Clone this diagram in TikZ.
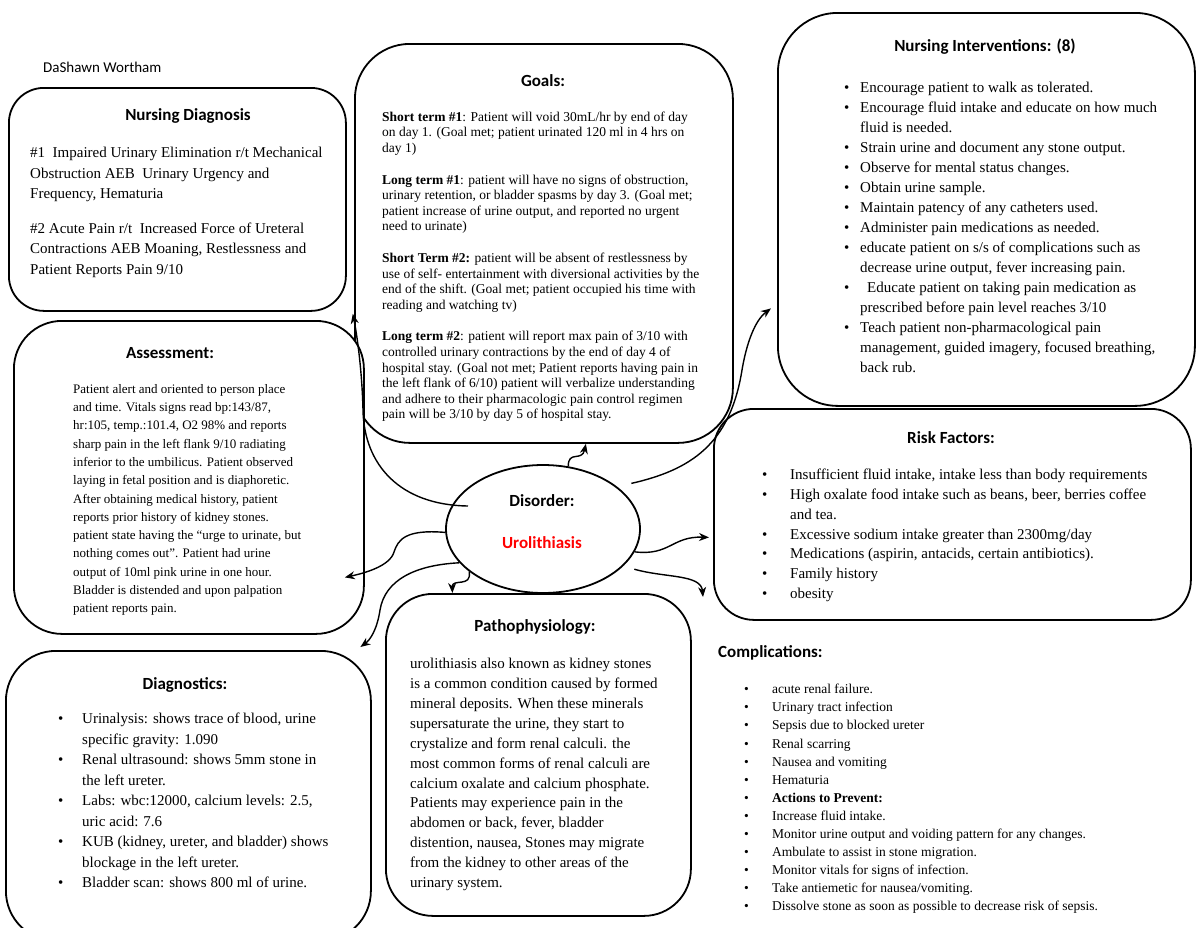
\documentclass[tikz,border=0pt]{standalone}
\usepackage{fontspec}
\setmainfont{Liberation Serif}
\newfontfamily\calfont{Carlito}
\usetikzlibrary{arrows.meta,shapes.geometric}
\newlength\bind
\newcommand\bu{\makebox[\bind][l]{\textbullet}}
\newcommand\bc{\hspace*{\bind}}
\begin{document}
\begin{tikzpicture}[x=1pt,y=-1pt,
  box/.style={draw, line width=1.8pt, fill=white, rectangle, rounded corners=#1, anchor=north west, inner sep=0pt},
  conn/.style={line width=1.4pt, -{Stealth[length=10pt,width=8pt]}},
  head/.style={font=\calfont\bfseries\fontsize{17}{20}\selectfont, inner sep=0pt},
  body/.style 2 args={font=\fontsize{#1}{#2}\selectfont, align=left, anchor=north west, inner sep=0pt},
  blist/.style n args={3}{font=\fontsize{#1}{#2}\selectfont\setlength\bind{#3}, align=left, anchor=north west, inner sep=0pt},
]
\useasboundingbox (0,0) rectangle (1200,927);
\clip (0,0) rectangle (1200,927);

% boxes
\node[box=55pt, minimum width=378pt, minimum height=399pt] (goals) at (354,43) {};
\node[box=35pt, minimum width=337pt, minimum height=223pt] (nd) at (8,87) {};
\node[box=60pt, minimum width=417pt, minimum height=393pt] (ni) at (777,12) {};
\node[box=40pt, minimum width=477pt, minimum height=211pt] (rf) at (713,408) {};
\node[box=48pt, minimum width=350pt, minimum height=313pt] (as) at (13,320) {};
\node[box=50pt, minimum width=365pt, minimum height=290pt] (dg) at (5,650) {};
\node[box=47pt, minimum width=305pt, minimum height=322pt] (pp) at (385,593) {};
\node[draw, ellipse, line width=1.8pt, fill=white, minimum width=194pt, minimum height=128pt, inner sep=0pt] (dis) at (543,529) {};

% author
\node[font=\calfont\fontsize{15}{18}\selectfont, anchor=west, inner sep=0pt] (author) at (43,67) {DaShawn Wortham};

% headings
\node[head] (ndh) at (188,116) {Nursing Diagnosis};
\node[head] (goalsh) at (543,81) {Goals:};
\node[head] (nih) at (985,47) {Nursing Interventions: (8)};
\node[head] (ash) at (170,353) {Assessment:};
\node[head] (rfh) at (951,438) {Risk Factors:};
\node[head] (dgh) at (185,685) {Diagnostics:};
\node[head] (pph) at (535,627) {Pathophysiology:};
\node[head, anchor=west] (coh) at (718,653) {Complications:};
\node[head] (dish) at (542,501) {Disorder:};
\node[head, text=red] (disn) at (542,543) {Urolithiasis};

% nursing diagnosis text
\node[body={15}{20.5}] (ndt) at (30,147) {\#1\ \ Impaired Urinary Elimination r/t Mechanical\\
Obstruction AEB\ \ Urinary Urgency and\\
Frequency, Hematuria\\[14pt]
\#2 Acute Pain r/t\ \ Increased Force of Ureteral\\
Contractions AEB Moaning, Restlessness and\\
Patient Reports Pain 9/10};

% goals text
\node[body={13.5}{15.6}] (goalst) at (382,111.5) {\textbf{Short term \#1}: Patient will void 30mL/hr by end of day\\
on day 1. (Goal met; patient urinated 120 ml in 4 hrs on\\
day 1)\\[16pt]
\textbf{Long term \#1}: patient will have no signs of obstruction,\\
urinary retention, or bladder spasms by day 3. (Goal met;\\
patient increase of urine output, and reported no urgent\\
need to urinate)\\[16pt]
\textbf{Short Term \#2:} patient will be absent of restlessness by\\
use of self- entertainment with diversional activities by the\\
end of the shift. (Goal met; patient occupied his time with\\
reading and watching tv)\\[16pt]
\textbf{Long term \#2}: patient will report max pain of 3/10 with\\
controlled urinary contractions by the end of day 4 of\\
hospital stay. (Goal not met; Patient reports having pain in\\
the left flank of 6/10) patient will verbalize understanding\\
and adhere to their pharmacologic pain control regimen\\
pain will be 3/10 by day 5 of hospital stay.};

% nursing interventions
\node[blist={15}{20}{16pt}] (nit) at (844,82) {\bu Encourage patient to walk as tolerated.\\
\bu Encourage fluid intake and educate on how much\\
\bc fluid is needed.\\
\bu Strain urine and document any stone output.\\
\bu Observe for mental status changes.\\
\bu Obtain urine sample.\\
\bu Maintain patency of any catheters used.\\
\bu Administer pain medications as needed.\\
\bu educate patient on s/s of complications such as\\
\bc decrease urine output, fever increasing pain.\\
\bu\hspace*{7pt}Educate patient on taking pain medication as\\
\bc prescribed before pain level reaches 3/10\\
\bu Teach patient non-pharmacological pain\\
\bc management, guided imagery, focused breathing,\\
\bc back rub.};

% assessment
\node[body={13}{18.3}] (ast) at (73,384) {Patient alert and oriented to person place\\
and time. Vitals signs read bp:143/87,\\
hr:105, temp.:101.4, O2 98\% and reports\\
sharp pain in the left flank 9/10 radiating\\
inferior to the umbilicus. Patient observed\\
laying in fetal position and is diaphoretic.\\
After obtaining medical history, patient\\
reports prior history of kidney stones.\\
patient state having the “urge to urinate, but\\
nothing comes out”. Patient had urine\\
output of 10ml pink urine in one hour.\\
Bladder is distended and upon palpation\\
patient reports pain.};

% risk factors
\node[blist={15}{19.8}{28pt}] (rft) at (762,469) {\bu Insufficient fluid intake, intake less than body requirements\\
\bu High oxalate food intake such as beans, beer, berries coffee\\
\bc and tea.\\
\bu Excessive sodium intake greater than 2300mg/day\\
\bu Medications (aspirin, antacids, certain antibiotics).\\
\bu Family history\\
\bu obesity};

% diagnostics
\node[blist={15}{20.5}{24pt}] (dgt) at (58,713) {\bu Urinalysis: shows trace of blood, urine\\
\bc specific gravity: 1.090\\
\bu Renal ultrasound: shows 5mm stone in\\
\bc the left ureter.\\
\bu Labs: wbc:12000, calcium levels: 2.5,\\
\bc uric acid: 7.6\\
\bu KUB (kidney, ureter, and bladder) shows\\
\bc blockage in the left ureter.\\
\bu Bladder scan: shows 800 ml of urine.};

% pathophysiology
\node[body={15}{19.9}] (ppt) at (410,658) {urolithiasis also known as kidney stones\\
is a common condition caused by formed\\
mineral deposits. When these minerals\\
supersaturate the urine, they start to\\
crystalize and form renal calculi. the\\
most common forms of renal calculi are\\
calcium oxalate and calcium phosphate.\\
Patients may experience pain in the\\
abdomen or back, fever, bladder\\
distention, nausea, Stones may migrate\\
from the kidney to other areas of the\\
urinary system.};

% complications
\node[blist={13.5}{18.1}{28pt}] (cot) at (744,684) {\bu acute renal failure.\\
\bu Urinary tract infection\\
\bu Sepsis due to blocked ureter\\
\bu Renal scarring\\
\bu Nausea and vomiting\\
\bu Hematuria\\
\bu \textbf{Actions to Prevent:}\\
\bu Increase fluid intake.\\
\bu Monitor urine output and voiding pattern for any changes.\\
\bu Ambulate to assist in stone migration.\\
\bu Monitor vitals for signs of infection.\\
\bu Take antiemetic for nausea/vomiting.\\
\bu Dissolve stone as soon as possible to decrease risk of sepsis.};

\coordinate (compl) at (703,597);

% connectors
\draw[conn] (dis.68) .. controls (568,450) and (582,462) .. ([xshift=42pt]goals.south);
\draw[conn] ([shift={(12pt,5pt)}]dis.28) .. controls (690,470) and (730,445) .. (742,370) .. controls (748,335) and (758,318) .. ([xshift=-6pt,yshift=-99pt]ni.west);
\draw[conn] (dis.-14) .. controls (670,556) and (672,536) .. ([xshift=-4pt,yshift=-23pt]rf.west);
\draw[conn] ([shift={(10pt,-4pt)}]dis.-24) .. controls (665,578) and (701,574) .. (compl);
\draw[conn] (dis.210) .. controls (472,588) and (452,578) .. ([xshift=-86pt]pp.north);
\draw[conn] (dis.182) .. controls (405,529) and (398,540) .. (394,552) .. controls (390,566) and (365,573) .. ([xshift=-20pt,yshift=-100pt]as.east);
\draw[conn] (dis.202) .. controls (415,565) and (385,580) .. (380,610) .. controls (377,630) and (370,640) .. ([xshift=172pt,yshift=3pt]dg.north);
\draw[conn] ([shift={(-75pt,23pt)}]dis.center) .. controls (400,505) and (364,465) .. (363,410) .. controls (362,370) and (357,335) .. ([xshift=6pt,yshift=-2pt]nd.south east);
\end{tikzpicture}
\end{document}
